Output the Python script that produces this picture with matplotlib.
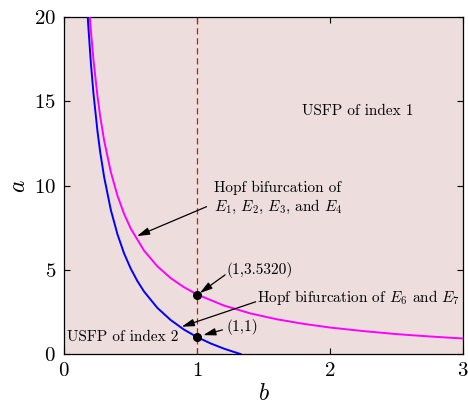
import matplotlib

matplotlib.use("Agg")
import matplotlib.pyplot as plt

plt.rcParams["font.family"] = ["cmr10", "DejaVu Serif"]
plt.rcParams["mathtext.fontset"] = "cm"
plt.rcParams["axes.formatter.use_mathtext"] = True

# Hopf curve of E1..E4 (magenta)
hopf14_b = [0.19, 0.20, 0.22, 0.25, 0.27, 0.30, 0.35, 0.40, 0.45, 0.50, 0.60, 0.70,
            0.80, 0.90, 1.00, 1.20, 1.40, 1.60, 1.80, 2.00, 2.25, 2.50, 2.75, 3.00]
hopf14_a = [20.2, 19.2, 17.42, 15.29, 14.12, 12.67, 10.81, 9.41, 8.32, 7.45, 6.14, 5.21,
            4.51, 3.97, 3.532, 2.88, 2.41, 2.06, 1.79, 1.57, 1.36, 1.18, 1.04, 0.92]

# Hopf curve of E6 and E7 (blue)
hopf67_b = [0.17, 0.18, 0.20, 0.22, 0.25, 0.27, 0.30, 0.35, 0.40, 0.45, 0.50, 0.55,
            0.60, 0.70, 0.80, 0.90, 1.00, 1.10, 1.20, 1.30, 1.326]
hopf67_a = [20.87, 19.54, 17.28, 15.43, 13.21, 12.00, 10.50, 8.56, 7.11, 5.97, 5.07, 4.33,
            3.71, 2.74, 2.02, 1.45, 1.00, 0.63, 0.32, 0.06, 0.0]

# marked intersection points with b = 1
mark_b = [1.0, 1.0]
mark_a = [3.532, 1.0]

x_ticks = [0, 1, 2, 3]
y_ticks = [0, 5, 10, 15, 20]

fig = plt.figure(figsize=(4.68, 4.08), dpi=100)
ax = fig.add_axes([0.1374, 0.1324, 0.8519, 0.8252])
ax.set_facecolor("#EEDDDD")

ax.plot(hopf14_b, hopf14_a, color="#FF00FF", lw=1.4, zorder=3)
ax.plot(hopf67_b, hopf67_a, color="#0000FF", lw=1.4, zorder=3)
ax.axvline(1.0, color="#E01010", lw=0.9, ls=(0, (5, 3)), zorder=2)
ax.plot(mark_b, mark_a, "o", color="black", ms=5.5, zorder=5)

ax.set_xlim(0, 3)
ax.set_ylim(0, 20)
ax.set_xticks(x_ticks)
ax.set_yticks(y_ticks)
ax.tick_params(direction="in", top=True, right=True, length=4, width=0.8,
               labelsize=15, pad=6)
for sp in ax.spines.values():
    sp.set_linewidth(0.9)

ax.set_xlabel("$b$", fontsize=17, labelpad=2)
ax.set_ylabel("$a$", fontsize=17, labelpad=3)

arrow = dict(arrowstyle="-|>,head_length=0.75,head_width=0.22", color="black",
             lw=0.9, shrinkA=0, shrinkB=0)
fs = 11

ax.annotate("", xy=(0.547, 7.0), xytext=(1.07, 8.75), arrowprops=arrow)
ax.text(1.13, 9.85, "Hopf bifurcation of", fontsize=fs, va="center")
ax.text(1.13, 8.75, "$E_1$, $E_2$, $E_3$, and $E_4$", fontsize=fs, va="center")

ax.annotate("", xy=(1.02, 3.62), xytext=(1.21, 4.7), arrowprops=arrow)
ax.text(1.22, 5.0, "(1,3.5320)", fontsize=fs, va="center")

ax.annotate("", xy=(0.883, 1.62), xytext=(1.44, 3.1), arrowprops=arrow)
ax.text(1.45, 3.35, "Hopf bifurcation of $E_6$ and $E_7$", fontsize=fs, va="center")

ax.annotate("", xy=(1.045, 1.12), xytext=(1.19, 1.43), arrowprops=arrow)
ax.text(1.22, 1.6, "(1,1)", fontsize=fs, va="center")

ax.text(0.02, 1.03, "USFP of index 2", fontsize=fs, va="center")
ax.text(1.79, 14.4, "USFP of index 1", fontsize=fs, va="center")

fig.savefig("out.png", dpi=100)
